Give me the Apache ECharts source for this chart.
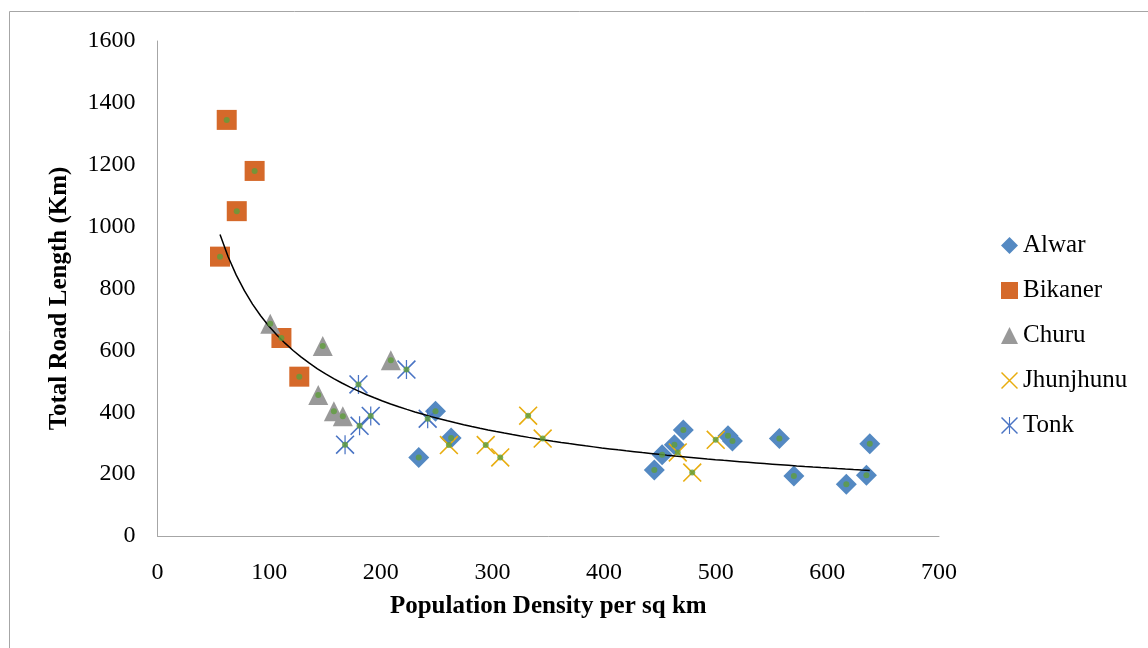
<!DOCTYPE html>
<html>
<head>
<meta charset="utf-8">
<script src="https://cdn.jsdelivr.net/npm/echarts@6/dist/echarts.min.js"></script>
<style>
  html, body { margin: 0; padding: 0; background: #fff; }
  #chart { width: 1148px; height: 648px; }
</style>
</head>
<body>
<div id="chart"></div>
<script>
// [population density, total road length] per tehsil
const alwar = [[234, 254], [249, 403], [263, 317], [445, 213], [452, 263], [463, 295], [471, 343],
  [511, 324], [515, 307], [557, 315], [570, 194], [617, 167], [635, 196], [638, 298]]
const bikaner = [[56, 903], [62, 1345], [71, 1050], [87, 1180], [111, 640], [127, 515]]
const churu = [[101, 686], [144, 456], [148, 614], [158, 403], [166, 387], [209, 568]]
const jhunjhunu = [[261, 294], [294, 294], [307, 254], [332, 389], [345, 315], [466, 270], [479, 205], [500, 311]]
const tonk = [[168, 295], [180, 490], [181, 356], [191, 388], [223, 538], [242, 379]]

const districts = ['Alwar', 'Bikaner', 'Churu', 'Jhunjhunu', 'Tonk']
const xTicks = { min: 0, max: 700, interval: 100 }
const yTicks = { min: 0, max: 1600, interval: 200 }

// 所有点合并, 用来画绿色小点和幂函数趋势线
const allPoints = [].concat(alwar, bikaner, churu, jhunjhunu, tonk)

// power trendline (y = a * x^b), least squares in log space like Excel does
function powerFit(points) {
  let n = points.length, sx = 0, sy = 0, sxx = 0, sxy = 0
  points.forEach(p => {
    const lx = Math.log(p[0]), ly = Math.log(p[1])
    sx += lx; sy += ly; sxx += lx * lx; sxy += lx * ly
  })
  const b = (n * sxy - sx * sy) / (n * sxx - sx * sx)
  const a = Math.exp((sy - b * sx) / n)
  return { a, b }
}
const fit = powerFit(allPoints)
const xs = allPoints.map(p => p[0])
const xMin = Math.min(...xs), xMax = Math.max(...xs)
const trend = []
for (let i = 0; i <= 80; i++) {
  const x = xMin + (xMax - xMin) * i / 80
  trend.push([x, fit.a * Math.pow(x, fit.b)])
}

const FONT = 'Liberation Serif'
const xPath = 'path://M0,1.2L1.2,0L20,18.8L18.8,20Z M18.8,0L20,1.2L1.2,20L0,18.8Z'
const starPath = 'path://M0,1.2L1.2,0L20,18.8L18.8,20Z M18.8,0L20,1.2L1.2,20L0,18.8Z M9.35,0L10.65,0L10.65,20L9.35,20Z'

const chart = echarts.init(document.getElementById('chart'))

function markerSeries(name, data, symbol, size, color) {
  return {
    name: name,
    type: 'scatter',
    data: data,
    symbol: symbol,
    symbolSize: size,
    itemStyle: { color: color, opacity: 1 },
    z: 2
  }
}

const option = {
  animation: false,
  backgroundColor: '#fff',
  textStyle: { fontFamily: FONT },
  graphic: [{
    type: 'rect',
    shape: { x: 9.5, y: 11.5, width: 1300, height: 800 },
    style: { fill: 'none', stroke: '#a6a6a6', lineWidth: 1 },
    silent: true
  }],
  grid: { left: 157.5, top: 41, right: 209, bottom: 112 },
  legend: {
    data: districts,
    orient: 'vertical',
    left: 996,
    top: 228,
    itemWidth: 17,
    itemHeight: 17,
    itemGap: 20,
    textStyle: { fontFamily: FONT, fontSize: 25, color: '#000' }
  },
  xAxis: {
    type: 'value',
    min: xTicks.min,
    max: xTicks.max,
    interval: xTicks.interval,
    name: 'Population Density per sq km',
    nameLocation: 'middle',
    nameGap: 58,
    nameTextStyle: { fontFamily: FONT, fontSize: 25, fontWeight: 'bold', color: '#000' },
    axisLine: { show: true, lineStyle: { color: '#a6a6a6', width: 1 } },
    axisTick: { show: false },
    splitLine: { show: false },
    axisLabel: { fontFamily: FONT, fontSize: 24, color: '#000', margin: 25 }
  },
  yAxis: {
    type: 'value',
    min: yTicks.min,
    max: yTicks.max,
    interval: yTicks.interval,
    name: 'Total Road Length (Km)',
    nameLocation: 'middle',
    nameGap: 85,
    nameTextStyle: { fontFamily: FONT, fontSize: 25, fontWeight: 'bold', color: '#000', padding: [0, 20, 0, 0] },
    axisLine: { show: true, lineStyle: { color: '#a6a6a6', width: 1 } },
    axisTick: { show: false },
    splitLine: { show: false },
    axisLabel: { fontFamily: FONT, fontSize: 24, color: '#000', margin: 22, formatter: v => String(v) }
  },
  series: [
    markerSeries('Alwar', alwar, 'diamond', 21, '#5489c2'),
    markerSeries('Bikaner', bikaner, 'rect', 20, '#d5692a'),
    markerSeries('Churu', churu, 'triangle', 20, '#999999'),
    markerSeries('Jhunjhunu', jhunjhunu, xPath, 19, '#e8ad0f'),
    markerSeries('Tonk', tonk, starPath, 19, '#4a74c4'),
    {
      name: 'trend',
      type: 'line',
      data: trend,
      showSymbol: false,
      smooth: false,
      lineStyle: { color: '#000', width: 1.5 },
      z: 3
    },
    {
      name: 'all',
      type: 'scatter',
      data: allPoints,
      symbol: 'circle',
      symbolSize: 6,
      itemStyle: { color: '#5f9e3c' },
      z: 4
    }
  ]
}

chart.setOption(option)
</script>
</body>
</html>
